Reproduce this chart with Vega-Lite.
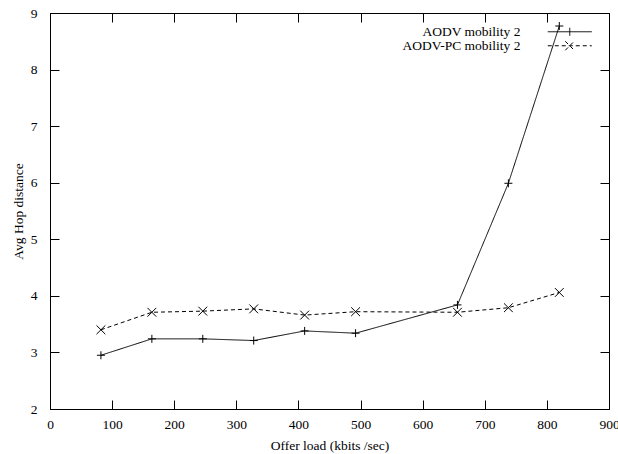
{
  "$schema": "https://vega.github.io/schema/vega-lite/v6.json",
  "width": 559,
  "height": 396,
  "autosize": "none",
  "padding": {"left": 50, "top": 13, "right": 9, "bottom": 45},
  "background": "white",
  "config": {
    "font": "Liberation Serif",
    "view": {"stroke": "black", "strokeWidth": 1},
    "axis": {
      "domainColor": "black",
      "tickColor": "black",
      "tickWidth": 1,
      "tickSize": -9,
      "grid": false,
      "labelFont": "Liberation Serif",
      "labelFontSize": 13.5,
      "labelColor": "black",
      "titleFont": "Liberation Serif",
      "titleFontSize": 13.5,
      "titleFontWeight": "normal",
      "titleColor": "black"
    },
    "legend": {
      "labelFont": "Liberation Serif",
      "labelFontSize": 13.5,
      "labelColor": "black"
    }
  },
  "data": {
    "values": [
      {"series": "AODV mobility 2", "load": 82, "hops": 2.95},
      {"series": "AODV mobility 2", "load": 164, "hops": 3.24},
      {"series": "AODV mobility 2", "load": 246, "hops": 3.24},
      {"series": "AODV mobility 2", "load": 328, "hops": 3.21},
      {"series": "AODV mobility 2", "load": 410, "hops": 3.38},
      {"series": "AODV mobility 2", "load": 492, "hops": 3.34},
      {"series": "AODV mobility 2", "load": 656, "hops": 3.84},
      {"series": "AODV mobility 2", "load": 738, "hops": 5.99},
      {"series": "AODV mobility 2", "load": 820, "hops": 8.77},
      {"series": "AODV-PC mobility 2", "load": 82, "hops": 3.40},
      {"series": "AODV-PC mobility 2", "load": 164, "hops": 3.71},
      {"series": "AODV-PC mobility 2", "load": 246, "hops": 3.73},
      {"series": "AODV-PC mobility 2", "load": 328, "hops": 3.77},
      {"series": "AODV-PC mobility 2", "load": 410, "hops": 3.66},
      {"series": "AODV-PC mobility 2", "load": 492, "hops": 3.72},
      {"series": "AODV-PC mobility 2", "load": 656, "hops": 3.71},
      {"series": "AODV-PC mobility 2", "load": 738, "hops": 3.79},
      {"series": "AODV-PC mobility 2", "load": 820, "hops": 4.06}
    ]
  },
  "layer": [
    {
      "mark": {"type": "line", "color": "black", "strokeWidth": 1},
      "encoding": {
        "x": {
          "field": "load", "type": "quantitative",
          "scale": {"domain": [0, 900], "nice": false, "zero": false},
          "axis": {"orient": "bottom", "values": [0,100,200,300,400,500,600,700,800,900], "title": "Offer load (kbits /sec)", "labelPadding": 17, "titlePadding": 8, "labelFlush": false}
        },
        "y": {
          "field": "hops", "type": "quantitative",
          "scale": {"domain": [2, 9], "nice": false, "zero": false},
          "axis": {"orient": "left", "values": [2,3,4,5,6,7,8,9], "title": "Avg Hop distance", "labelPadding": 22, "titleX": -32, "titleY": 198, "titleBaseline": "middle", "titleAlign": "center", "labelFlush": false}
        },
        "strokeDash": {
          "field": "series", "type": "nominal",
          "scale": {"domain": ["AODV mobility 2", "AODV-PC mobility 2"], "range": [[1, 0], [4, 3]]},
          "legend": {
            "title": null,
            "orient": "none",
            "legendX": 513,
            "legendY": 12,
            "padding": 0,
            "rowPadding": -2,
            "symbolSize": 100,
            "symbolStrokeColor": "black",
            "symbolStrokeWidth": 1,
            "labelAlign": "right",
            "labelOffset": -56,
            "encode": {
              "symbols": {
                "update": {
                  "shape": {"signal": "datum.value === 'AODV mobility 2' ? 'M-4.4,0L4.4,0M0,-0.8L0,0.8' : 'M-4.4,0L4.4,0M-0.9,-0.9L0.9,0.9M-0.9,0.9L0.9,-0.9'"},
                  "stroke": {"value": "black"},
                  "fill": {"value": "transparent"},
                  "strokeWidth": {"value": 1}
                }
              }
            }
          }
        }
      }
    },
    {
      "transform": [{"filter": "datum.series === 'AODV mobility 2'"}],
      "mark": {"type": "point", "color": "black", "filled": false, "strokeWidth": 1, "opacity": 1, "size": 64, "shape": "M-1,0L1,0M0,-1L0,1"},
      "encoding": {
        "x": {
          "field": "load", "type": "quantitative",
          "axis": {"orient": "top", "values": [0,100,200,300,400,500,600,700,800,900], "labels": false, "title": null}
        },
        "y": {
          "field": "hops", "type": "quantitative",
          "axis": {"orient": "right", "values": [2,3,4,5,6,7,8,9], "labels": false, "title": null}
        }
      }
    },
    {
      "transform": [{"filter": "datum.series === 'AODV-PC mobility 2'"}],
      "mark": {"type": "point", "color": "black", "filled": false, "strokeWidth": 1, "opacity": 1, "size": 64, "shape": "M-1.1,-1.1L1.1,1.1M-1.1,1.1L1.1,-1.1"},
      "encoding": {
        "x": {"field": "load", "type": "quantitative", "axis": null},
        "y": {"field": "hops", "type": "quantitative", "axis": null}
      }
    }
  ],
  "resolve": {"axis": {"x": "independent", "y": "independent"}}
}
